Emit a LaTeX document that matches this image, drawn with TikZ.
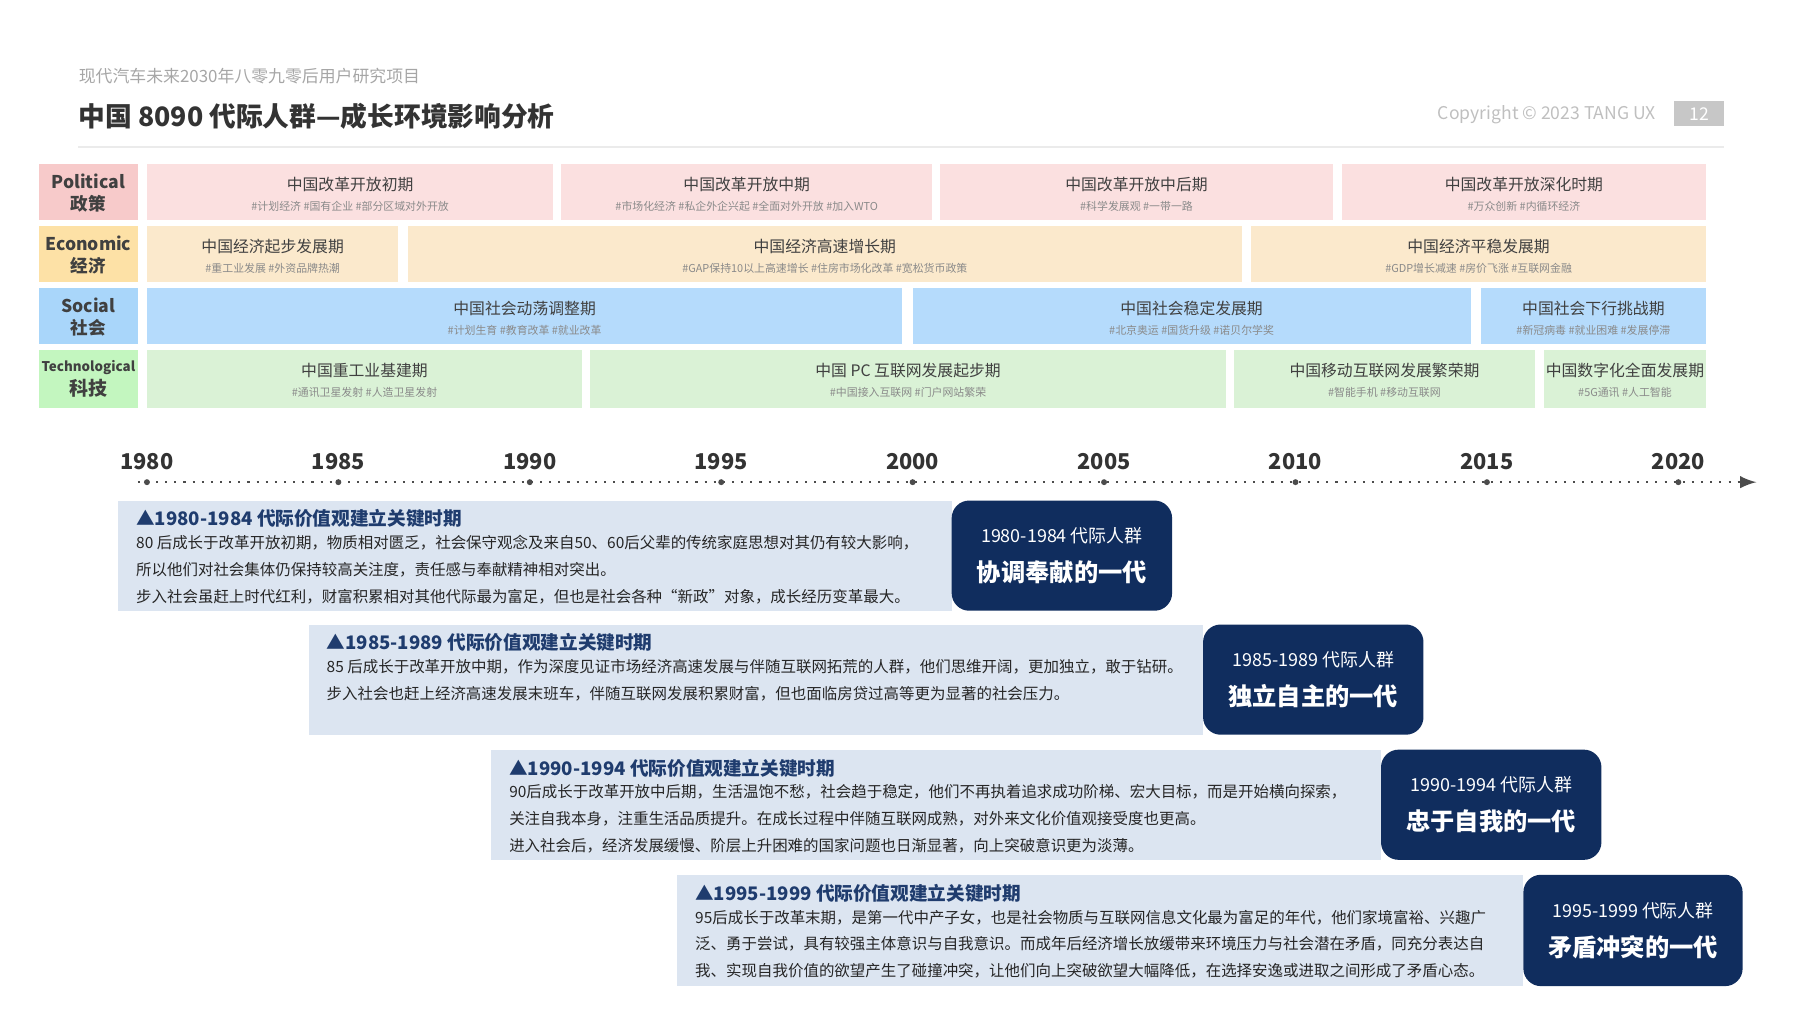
\documentclass[tikz,border=0pt]{standalone}
\usepackage{fontspec}
\setmainfont{Noto Sans CJK SC}
\usetikzlibrary{positioning}
\definecolor{polbg}{HTML}{FBE0E0}\definecolor{pollab}{HTML}{F7CACA}
\definecolor{ecobg}{HTML}{FBE9CC}\definecolor{ecolab}{HTML}{FDE1A6}
\definecolor{socbg}{HTML}{B5DBFC}\definecolor{soclab}{HTML}{A9D6FA}
\definecolor{tecbg}{HTML}{DAF2D6}\definecolor{teclab}{HTML}{C3F6BF}
\definecolor{navy}{HTML}{102D5E}\definecolor{pale}{HTML}{DCE5F1}
\definecolor{ink}{HTML}{1F3C6E}\definecolor{tagc}{HTML}{8A8A8A}
\tikzset{
  lab/.style={inner sep=0pt, align=center, font=\fontsize{5}{6.4}\selectfont\bfseries, text=black!75},
  bandt/.style={inner sep=0pt, font=\fontsize{4.5}{5}\selectfont, text=black!75},
  tagt/.style={inner sep=0pt, font=\fontsize{3.1}{4}\selectfont, text=tagc},
  year/.style={inner sep=0pt, font=\fontsize{6.2}{7}\selectfont\bfseries, text=black!80},
  para/.style={inner sep=0pt, anchor=north west, align=left, font=\fontsize{4.4}{7.6}\selectfont, text=black!85},
  head/.style={inner sep=0pt, anchor=west, font=\fontsize{5.3}{6}\selectfont\bfseries, text=ink},
  gen/.style={inner sep=0pt, align=center, text=white}
}
% x1 x2 y1 y2 colour title tags
\newcommand{\band}[7]{%
  \fill[#5] (#1,#3) rectangle (#2,#4);
  \node[bandt] at ({(#1+#2)/2},{#3+18}) {#6};
  \node[tagt] at ({(#1+#2)/2},{#3+37}) {#7};
}
% x1 x2 xd y1 y2 ...
\newcommand{\genblock}[8]{%
  \fill[pale] (#1,#4) rectangle (#3,#5);
  \fill[navy, rounded corners=5] (#3,#4) rectangle (#2,#5);
  \node[head] at ({#1+15},{#4+16}) {▲#6 代际价值观建立关键时期};
  \node[para] at ({#1+15},{#4+30}) {#7};
  \node[gen] at ({(#3+#2)/2},{(#4+#5)/2}) {\fontsize{5.1}{6}\selectfont#6 代际人群\\[-1pt]\fontsize{6.9}{8}\selectfont\bfseries#8};
}
\begin{document}
\begin{tikzpicture}[x=0.01148cm, y=-0.01148cm]
\useasboundingbox (0,0) rectangle (1568,882);
% header
\node[inner sep=0pt, anchor=west, font=\fontsize{4.8}{5}\selectfont, text=black!35] (sub) at (68,66) {现代汽车未来2030年八零九零后用户研究项目};
\node[inner sep=0pt, anchor=west, font=\fontsize{7.6}{8}\selectfont\bfseries, text=black!80] (title) at (68,101) {中国 8090 代际人群—成长环境影响分析};
\fill[black!22] (1458,88) rectangle (1502,110);
\node[inner sep=0pt, font=\fontsize{5}{5}\selectfont, text=white] (page) at (1480,99) {12};
\node[inner sep=0pt, anchor=east, font=\fontsize{5}{5}\selectfont, text=black!25] (copy) at (1443,100) {Copyright © 2023 TANG UX};
\draw[black!8, line width=0.5pt] (68,128) -- (1502,128);
% row labels
\fill[pollab] (34,143) rectangle (120,192);
\fill[ecolab] (34,197) rectangle (120,246);
\fill[soclab] (34,251) rectangle (120,300);
\fill[teclab] (34,305) rectangle (120,355);
\node[lab] (pol) at (77,168) {Political\\政策};
\node[lab] (eco) at (77,222) {Economic\\经济};
\node[lab] (soc) at (77,276) {Social\\社会};
\node[lab, font=\fontsize{3.8}{7}\selectfont\bfseries] (tec) at (77,330) {Technological\\\fontsize{5.4}{6}\selectfont 科技};
% bands
\band{128}{482}{143}{192}{polbg}{中国改革开放初期}{\#计划经济 \#国有企业 \#部分区域对外开放}
\band{489}{812}{143}{192}{polbg}{中国改革开放中期}{\#市场化经济 \#私企外企兴起 \#全面对外开放 \#加入WTO}
\band{819}{1161}{143}{192}{polbg}{中国改革开放中后期}{\#科学发展观 \#一带一路}
\band{1169}{1486}{143}{192}{polbg}{中国改革开放深化时期}{\#万众创新 \#内循环经济}
\band{128}{347}{197}{246}{ecobg}{中国经济起步发展期}{\#重工业发展 \#外资品牌热潮}
\band{355}{1082}{197}{246}{ecobg}{中国经济高速增长期}{\#GAP保持10以上高速增长 \#住房市场化改革 \#宽松货币政策}
\band{1090}{1486}{197}{246}{ecobg}{中国经济平稳发展期}{\#GDP增长减速 \#房价飞涨 \#互联网金融}
\band{128}{786}{251}{300}{socbg}{中国社会动荡调整期}{\#计划生育 \#教育改革 \#就业改革}
\band{795}{1281}{251}{300}{socbg}{中国社会稳定发展期}{\#北京奥运 \#国货升级 \#诺贝尔学奖}
\band{1290}{1486}{251}{300}{socbg}{中国社会下行挑战期}{\#新冠病毒 \#就业困难 \#发展停滞}
\band{128}{507}{305}{355}{tecbg}{中国重工业基建期}{\#通讯卫星发射 \#人造卫星发射}
\band{514}{1068}{305}{355}{tecbg}{中国 PC 互联网发展起步期}{\#中国接入互联网 \#门户网站繁荣}
\band{1075}{1337}{305}{355}{tecbg}{中国移动互联网发展繁荣期}{\#智能手机 \#移动互联网}
\band{1345}{1486}{305}{355}{tecbg}{中国数字化全面发展期}{\#5G通讯 \#人工智能}
% timeline
\coordinate (t0) at (120,420);
\coordinate (t1) at (1530,420);
\draw[black!70, line width=0.6pt, dotted, -latex] (t0) -- (t1);
\foreach \yr [count=\i from 0] in {1980,1985,...,2020} {
  \fill[black!70] ({128+\i*166.75},420) circle (2.6);
  \node[year] (y\yr) at ({128+\i*166.75},402) {\yr};
}
% generations
\genblock{103}{1021}{829}{436}{532}{1980-1984}{80 后成长于改革开放初期，物质相对匮乏，社会保守观念及来自50、60后父辈的传统家庭思想对其仍有较大影响，\\所以他们对社会集体仍保持较高关注度，责任感与奉献精神相对突出。\\步入社会虽赶上时代红利，财富积累相对其他代际最为富足，但也是社会各种“新政”对象，成长经历变革最大。}{协调奉献的一代}
\genblock{269}{1240}{1048}{544}{640}{1985-1989}{85 后成长于改革开放中期，作为深度见证市场经济高速发展与伴随互联网拓荒的人群，他们思维开阔，更加独立，敢于钻研。\\步入社会也赶上经济高速发展末班车，伴随互联网发展积累财富，但也面临房贷过高等更为显著的社会压力。}{独立自主的一代}
\genblock{428}{1395}{1203}{653}{749}{1990-1994}{90后成长于改革开放中后期，生活温饱不愁，社会趋于稳定，他们不再执着追求成功阶梯、宏大目标，而是开始横向探索，\\关注自我本身，注重生活品质提升。在成长过程中伴随互联网成熟，对外来文化价值观接受度也更高。\\进入社会后，经济发展缓慢、阶层上升困难的国家问题也日渐显著，向上突破意识更为淡薄。}{忠于自我的一代}
\genblock{590}{1518}{1327}{762}{859}{1995-1999}{95后成长于改革末期，是第一代中产子女，也是社会物质与互联网信息文化最为富足的年代，他们家境富裕、兴趣广\\泛、勇于尝试，具有较强主体意识与自我意识。而成年后经济增长放缓带来环境压力与社会潜在矛盾，同充分表达自\\我、实现自我价值的欲望产生了碰撞冲突，让他们向上突破欲望大幅降低，在选择安逸或进取之间形成了矛盾心态。}{矛盾冲突的一代}
\end{tikzpicture}
\end{document}
